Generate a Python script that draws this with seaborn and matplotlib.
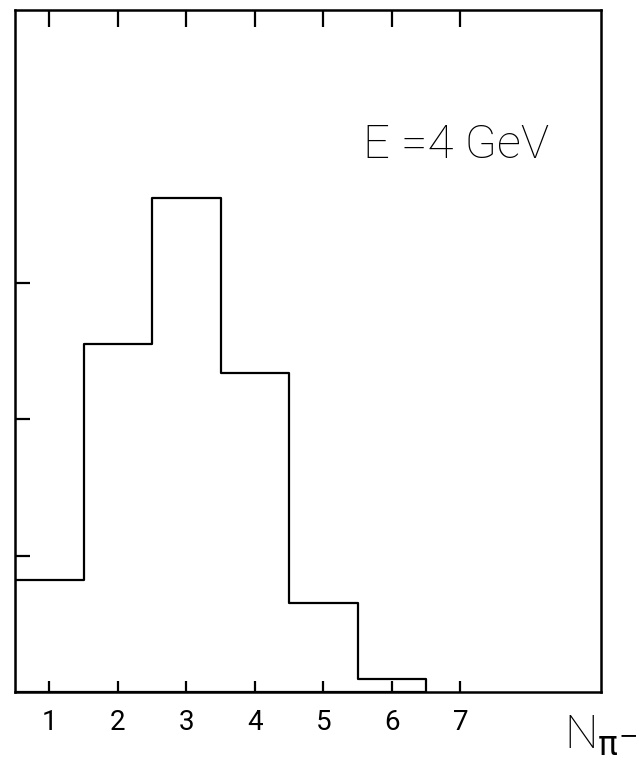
import numpy as np
import pandas as pd
import matplotlib
matplotlib.use("Agg")
import matplotlib.pyplot as plt
import seaborn as sns

# Data
n_pi = [1, 2, 3, 4, 5, 6]
counts = [0.82, 2.55, 3.62, 2.34, 0.65, 0.095]
x_ticks = [1, 2, 3, 4, 5, 6, 7]
y_ticks = [1, 2, 3]

df = pd.DataFrame({"n": n_pi, "w": counts})

sns.set_theme(style="ticks")
plt.rcParams["font.family"] = ["Roboto", "DejaVu Sans"]

fig = plt.figure(figsize=(6.42, 7.74), dpi=100)
ax = fig.add_axes([15 / 642, 82 / 774, 586 / 642, 682 / 774])

sns.histplot(data=df, x="n", weights="w", discrete=True,
             element="step", fill=True, color="black", facecolor="none",
             edgecolor="black", linewidth=1.6, ax=ax)

ax.set_xlim(0.5, 9.05)
ax.set_ylim(0, 5.0)
ax.set_xlabel("")
ax.set_ylabel("")

for s in ax.spines.values():
    s.set_visible(True)
    s.set_color("black")
    s.set_linewidth(1.8)

ax.set_xticks(x_ticks)
ax.set_xticklabels([str(t) for t in x_ticks], fontsize=20, fontweight="normal")
ax.set_yticks(y_ticks)
ax.set_yticklabels([])
ax.tick_params(axis="x", direction="in", length=8, width=1.6, top=True,
               bottom=True, pad=12, colors="black")
ax.tick_params(axis="x", which="major", labeltop=False)
ax.tick_params(axis="y", direction="in", length=11, width=1.6, left=True,
               right=False, colors="black")
for t in ax.xaxis.get_major_ticks():
    t.tick2line.set_markersize(12)

ax.text(0.753, 0.802, "E =4 GeV", transform=ax.transAxes, fontsize=34,
        fontweight="light", ha="center", va="center", color="black")

fig.text(0.993, 0.05, r"N$_{\mathrm{\pi}^{-}}$", fontsize=34, fontweight="light",
         math_fontfamily="dejavusans", ha="right", va="center", color="black")

fig.savefig("out.png", dpi=100, facecolor="white")
